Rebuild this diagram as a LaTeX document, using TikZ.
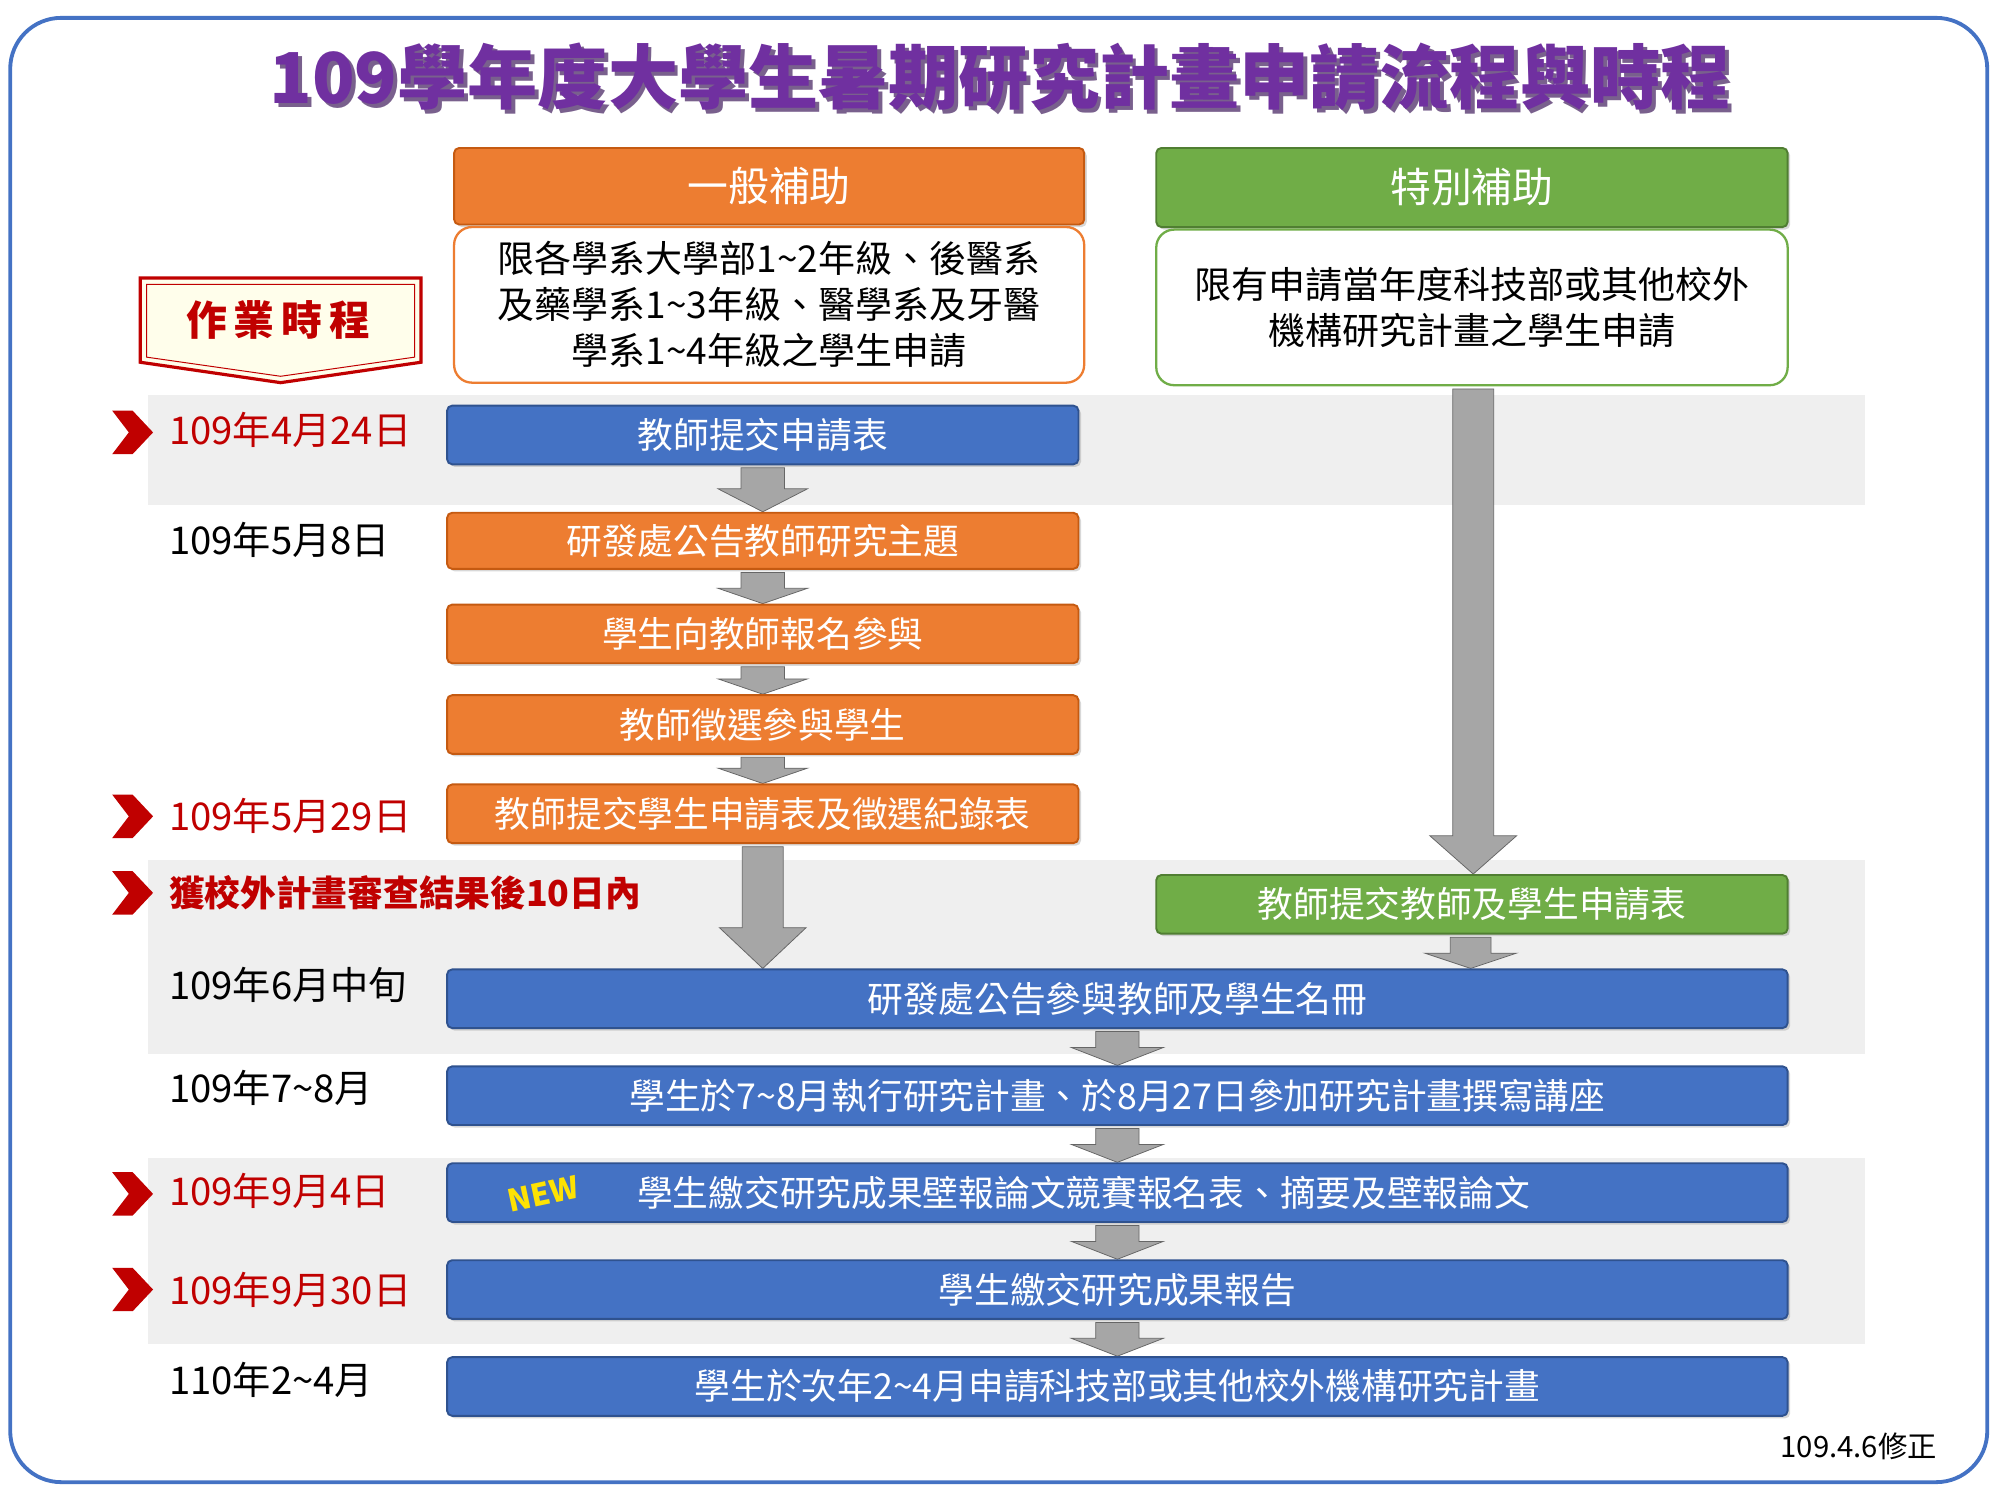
\documentclass[tikz,border=0pt]{standalone}
\usepackage{fontspec}
\setmainfont{Noto Sans CJK TC}
\usetikzlibrary{calc,shadows}
\definecolor{ttl}{HTML}{7030A0}
\definecolor{org}{HTML}{ED7D31}
\definecolor{orgd}{HTML}{C55A11}
\definecolor{blu}{HTML}{4472C4}
\definecolor{blud}{HTML}{2F528F}
\definecolor{grn}{HTML}{70AD47}
\definecolor{grnd}{HTML}{507E32}
\definecolor{band}{HTML}{EFEFEF}
\definecolor{arr}{HTML}{A6A6A6}
\definecolor{dred}{HTML}{C00000}
\pgfdeclarelayer{bands}\pgfdeclarelayer{arrows}
\pgfsetlayers{bands,arrows,main}
\tikzset{
 bx/.style={rounded corners=4pt,draw,line width=1.5pt,text=white,font=\fontsize{28}{32}\selectfont,minimum height=46pt,drop shadow={shadow xshift=2pt,shadow yshift=-2pt,opacity=0.3},inner sep=0pt},
 ob/.style={bx,fill=org,draw=orgd},
 bb/.style={bx,fill=blu,draw=blud},
 gb/.style={bx,fill=grn,draw=grnd},
 dt/.style={anchor=west,font=\fontsize{30}{34}\selectfont},
 rdt/.style={dt,text=dred},
 chev/.style={fill=dred},
}
\newcommand\barrow[6]{% from, to, x, shaft half, head half, head length
 \begin{pgfonlayer}{arrows}
 \path[fill=arr,draw=gray!80!black,line width=0.6pt] let \p1=(#1.south), \p2=(#2.north) in
 ({#3pt-#4pt},{\y1-2pt}) -- ({#3pt+#4pt},{\y1-2pt}) -- ({#3pt+#4pt},{\y2+#6pt}) -- ({#3pt+#5pt},{\y2+#6pt})
 -- ({#3pt},{\y2}) -- ({#3pt-#5pt},{\y2+#6pt}) -- ({#3pt-#4pt},{\y2+#6pt}) -- cycle;
 \end{pgfonlayer}}
\newcommand\chevat[1]{\fill[chev] (88,#1-17) -- (104,#1-17) -- (120,#1) -- (104,#1+17) -- (88,#1+17) -- (101,#1) -- cycle;}
\begin{document}
\begin{tikzpicture}[x=1pt,y=-1pt]
\useasboundingbox (0,0) rectangle (1568,1176);
\begin{pgfonlayer}{bands}
\fill[white] (0,0) rectangle (1568,1176);
\fill[band] (116,310) rectangle (1462,396);
\fill[band] (116,674) rectangle (1462,826);
\fill[band] (116,908) rectangle (1462,1054);
\end{pgfonlayer}
\draw[blu,line width=3pt,rounded corners=40pt] (8,14) rectangle (1558,1162);
\node[text=ttl!40!gray,font=\bfseries\fontsize{55}{60}\selectfont] at (787,63) {109學年度大學生暑期研究計畫申請流程與時程};
\node (title) [text=ttl,font=\bfseries\fontsize{55}{60}\selectfont] at (784,60) {109學年度大學生暑期研究計畫申請流程與時程};
% headers
\node (gh) [ob,minimum width=494pt,minimum height=60pt,font=\fontsize{32}{36}\selectfont] at (603,146) {一般補助};
\node (gd) [draw=org,line width=1.8pt,rounded corners=14pt,fill=white,minimum width=494pt,minimum height=122pt,font=\fontsize{29}{36}\selectfont,align=center,inner sep=0pt] at (603,239) {限各學系大學部1\textasciitilde2年級、後醫系\\及藥學系1\textasciitilde3年級、醫學系及牙醫\\學系1\textasciitilde4年級之學生申請};
\node (sh) [gb,minimum width=495pt,minimum height=62pt,font=\fontsize{32}{36}\selectfont] at (1154,147) {特別補助};
\node (sd) [draw=grn,line width=1.8pt,rounded corners=14pt,fill=white,minimum width=495pt,minimum height=122pt,font=\fontsize{29}{36}\selectfont,align=center,inner sep=0pt] at (1154,241) {限有申請當年度科技部或其他校外\\機構研究計畫之學生申請};
% banner
\draw[dred,line width=2.5pt,fill=yellow!8] (110,218) -- (330,218) -- (330,284) -- (220,300) -- (110,284) -- cycle;
\draw[dred,line width=0.8pt] (115,223) -- (325,223) -- (325,280) -- (220,295) -- (115,280) -- cycle;
\node (bn) [text=dred,font=\bfseries\fontsize{32}{36}\selectfont] at (218,251) {作\,業\,時\,程};
% left column boxes
\node (b1) [bb,minimum width=495pt] at (598,341) {教師提交申請表};
\node (b2) [ob,minimum width=495pt,minimum height=44pt] at (598,424) {研發處公告教師研究主題};
\node (b3) [ob,minimum width=495pt] at (598,497) {學生向教師報名參與};
\node (b4) [ob,minimum width=495pt] at (598,568) {教師徵選參與學生};
\node (b5) [ob,minimum width=495pt] at (598,638) {教師提交學生申請表及徵選紀錄表};
\node (g1) [gb,minimum width=495pt] at (1154,709) {教師提交教師及學生申請表};
\node (w1) [bb,minimum width=1051pt] at (876,783) {研發處公告參與教師及學生名冊};
\node (w2) [bb,minimum width=1051pt] at (876,859) {學生於7\textasciitilde8月執行研究計畫、於8月27日參加研究計畫撰寫講座};
\node (w3) [bb,minimum width=1051pt] at (876,935) {\hspace*{1pt}};
\node (w3t) [text=white,font=\fontsize{28}{32}\selectfont,anchor=west] at (496,935) {學生繳交研究成果壁報論文競賽報名表、摘要及壁報論文};
\node (w4) [bb,minimum width=1051pt] at (876,1011) {學生繳交研究成果報告};
\node (w5) [bb,minimum width=1051pt] at (876,1087) {學生於次年2\textasciitilde4月申請科技部或其他校外機構研究計畫};
\node (new) [text=yellow!85!orange,font=\bfseries\itshape\fontsize{24}{26}\selectfont,rotate=12] at (426,936) {NEW};
% arrows
\barrow{b1}{b2}{598}{17}{35}{18}
\barrow{b2}{b3}{598}{17}{35}{12}
\barrow{b3}{b4}{598}{17}{35}{12}
\barrow{b4}{b5}{598}{17}{35}{12}
\barrow{b5}{w1}{598}{16}{34}{32}
\barrow{sd}{g1}{1155}{16}{34}{30}
\barrow{g1}{w1}{1153}{16}{36}{12}
\barrow{w1}{w2}{876}{17}{36}{14}
\barrow{w2}{w3}{876}{17}{36}{14}
\barrow{w3}{w4}{876}{17}{36}{14}
\barrow{w4}{w5}{876}{17}{36}{14}
% dates
\node (d1) [rdt] at (129,337) {109年4月24日}; \chevat{339}
\node (d2) [dt] at (129,423) {109年5月8日};
\node (d3) [rdt] at (129,640) {109年5月29日}; \chevat{640}
\node (d4) [rdt,font=\bfseries\fontsize{28}{30}\selectfont] at (129,700) {獲校外計畫審查結果後10日內}; \chevat{700}
\node (d5) [dt] at (129,772) {109年6月中旬};
\node (d6) [dt] at (129,853) {109年7\textasciitilde8月};
\node (d7) [rdt] at (129,934) {109年9月4日}; \chevat{936}
\node (d8) [rdt] at (129,1011) {109年9月30日}; \chevat{1011}
\node (d9) [dt] at (129,1082) {110年2\textasciitilde4月};
\node (rev) [anchor=east,font=\fontsize{23}{26}\selectfont] at (1522,1134) {109.4.6修正};
\end{tikzpicture}
\end{document}
